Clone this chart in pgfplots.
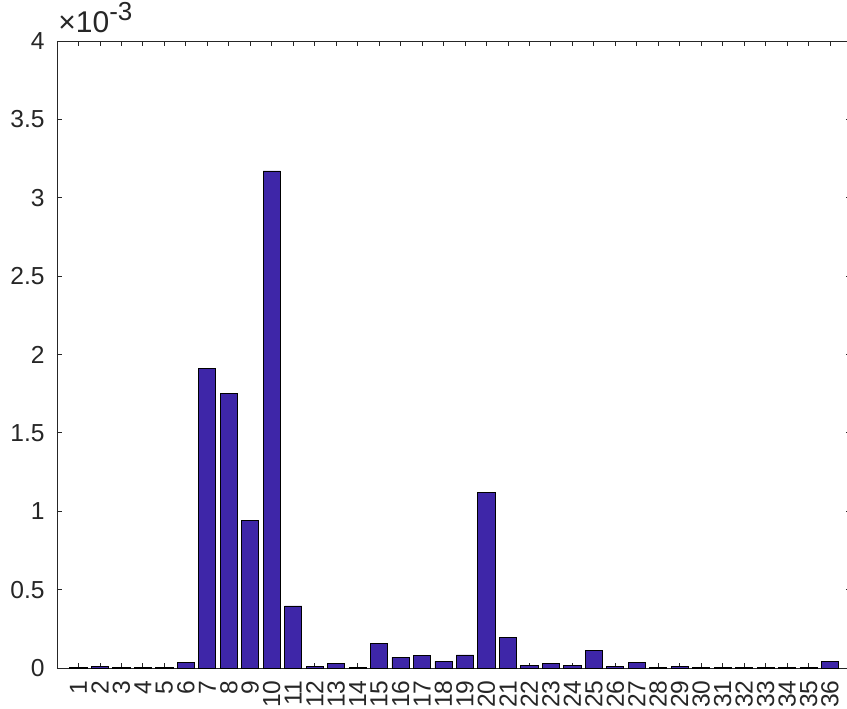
\documentclass[border=0pt]{standalone}
\usepackage{fontspec}
\setmainfont{Liberation Sans}
\usepackage{pgfplots}
\pgfplotsset{compat=1.18}
\definecolor{barblue}{rgb}{0.2422,0.1504,0.6603}
\definecolor{axgray}{rgb}{0.15,0.15,0.15}
\begin{document}
\begin{tikzpicture}[x=1pt,y=1pt]
\begin{axis}[
  at={(0,0)}, anchor=south west,
  scale only axis, width=397.25pt, height=313.5pt,
  xmin=0, xmax=37, ymin=0, ymax=4,
  ybar, bar width=0.8,
  xtick={1,...,36},
  ytick={0,0.5,1,1.5,2,2.5,3,3.5,4},
  /pgf/number format/assume math mode=true,
  tick align=inside, major tick length=2.5pt,
  tick style={axgray, line width=0.4pt},
  axis line style={axgray, line width=0.4pt},
  every tick label/.append style={font=\fontsize{12.3}{13}\selectfont, text=axgray},
  x tick label style={rotate=90, anchor=east, inner sep=0pt, xshift=0pt},
  xticklabel shift=6pt,
  y tick label style={inner sep=0pt},
  yticklabel shift=6pt,
  clip=false,
]
\addplot[fill=barblue, draw=black, line width=0.4pt] coordinates {
(1,0.004) (2,0.012) (3,0.002) (4,0.003) (5,0.006) (6,0.037)
(7,1.912) (8,1.75) (9,0.944) (10,3.171) (11,0.396) (12,0.010)
(13,0.027) (14,0.004) (15,0.155) (16,0.068) (17,0.079) (18,0.043)
(19,0.083) (20,1.12) (21,0.194) (22,0.019) (23,0.027) (24,0.015)
(25,0.113) (26,0.010) (27,0.038) (28,0.002) (29,0.012) (30,0.003)
(31,0.002) (32,0.006) (33,0.002) (34,0.003) (35,0.002) (36,0.040)
};
\node[anchor=base west, inner sep=0pt, text=axgray, font={\fontsize{15}{16}\selectfont}]
  at ([xshift=0.5pt,yshift=4.5pt]rel axis cs:0,1)
  {×10\raisebox{6pt}{\fontsize{13}{14}\selectfont -3}};
\end{axis}
\pgfresetboundingbox
\useasboundingbox (-28.5,-20) rectangle (395,334);
\end{tikzpicture}
\end{document}
